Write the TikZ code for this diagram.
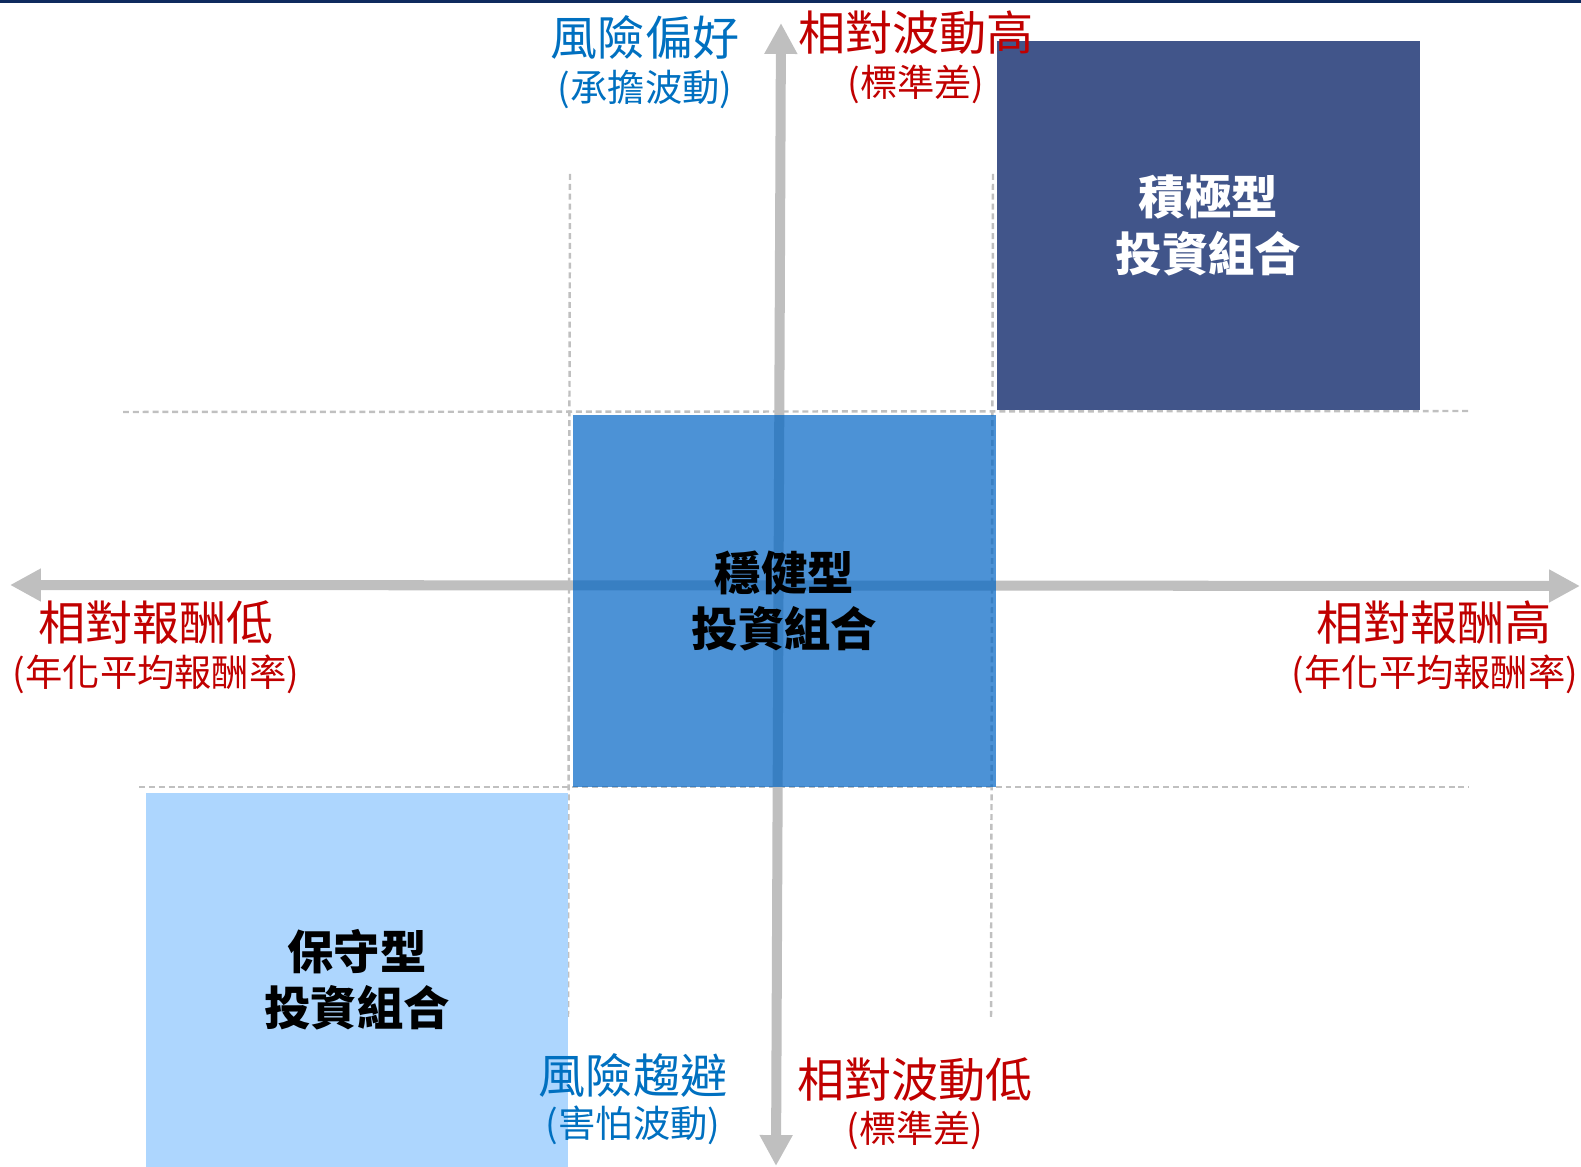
\documentclass[tikz,border=0pt]{standalone}
\usepackage{fontspec}
\setmainfont{Noto Sans CJK TC}
\usetikzlibrary{arrows.meta}

\definecolor{riskblue}{HTML}{0070C0}
\definecolor{retred}{HTML}{C00000}
\definecolor{axisgray}{HTML}{BFBFBF}
\definecolor{gridgray}{HTML}{C0C0C0}
\definecolor{aggrbox}{HTML}{41558A}
\definecolor{balbox}{HTML}{0064C4}
\definecolor{consbox}{HTML}{ADD6FE}
\definecolor{topbar}{HTML}{0E2A5E}

\tikzset{
  axis/.style={draw=axisgray, line width=2.85pt,
    {Triangle[length=8.8pt,width=8.8pt]}-{Triangle[length=8.8pt,width=8.8pt]}},
  gridline/.style={draw=gridgray, line width=0.7pt, dash pattern=on 1.7pt off 1.1pt},
  biglabel/.style={font=\fontsize{13.4}{16}\selectfont, inner sep=0pt},
  smalllabel/.style={font=\fontsize{10.6}{12}\selectfont, inner sep=0pt},
  portbox/.style={font=\bfseries\fontsize{13.2}{16}\selectfont, align=center, inner sep=0pt}
}

\begin{document}
\begin{tikzpicture}[x=0.01cm,y=-0.01cm]
\useasboundingbox (0,0) rectangle (1581,1167);
\fill[topbar] (0,0) rectangle (1581,3);

\draw[gridline] (123,412) -- (1469,411);
\draw[gridline] (139,787) -- (1469,787);
\draw[gridline] (570,174) -- (568,1020);
\draw[gridline] (993,174) -- (991,1019);

\coordinate (vtop) at (781,23);
\coordinate (vbot) at (776,1166);
\coordinate (hleft) at (10,585);
\coordinate (hright) at (1580,586);
\draw[axis] (vbot) -- (vtop);
\draw[axis] (hleft) -- (hright);

\node[portbox, fill=aggrbox, text=white, minimum width=4.23cm, minimum height=3.69cm] (aggr) at (1208.5,225.5) {積極型\\投資組合};
\node[portbox, fill=balbox, fill opacity=0.7, text opacity=1, minimum width=4.23cm, minimum height=3.72cm] (bal) at (784.5,601) {穩健型\\投資組合};
\node[portbox, fill=consbox, minimum width=4.22cm, minimum height=3.74cm] (cons) at (357,980) {保守型\\投資組合};

\node[biglabel, text=riskblue] (likerisk) at (645,37) {風險偏好};
\node[smalllabel, text=riskblue] (likerisk2) at (645,89) {(承擔波動)};
\node[biglabel, text=retred] (volhigh) at (916,33) {相對波動高};
\node[smalllabel, text=retred] (volhigh2) at (916,84) {(標準差)};

\node[biglabel, text=retred] (retlow) at (156,623) {相對報酬低};
\node[smalllabel, text=retred] (retlow2) at (156,674) {(年化平均報酬率)};
\node[biglabel, text=retred] (rethigh) at (1434,623) {相對報酬高};
\node[smalllabel, text=retred] (rethigh2) at (1435,674) {(年化平均報酬率)};

\node[biglabel, text=riskblue] (avoidrisk) at (633,1075) {風險趨避};
\node[smalllabel, text=riskblue] (avoidrisk2) at (633,1125) {(害怕波動)};
\node[biglabel, text=retred] (vollow) at (915,1080) {相對波動低};
\node[smalllabel, text=retred] (vollow2) at (915,1130) {(標準差)};
\end{tikzpicture}
\end{document}
